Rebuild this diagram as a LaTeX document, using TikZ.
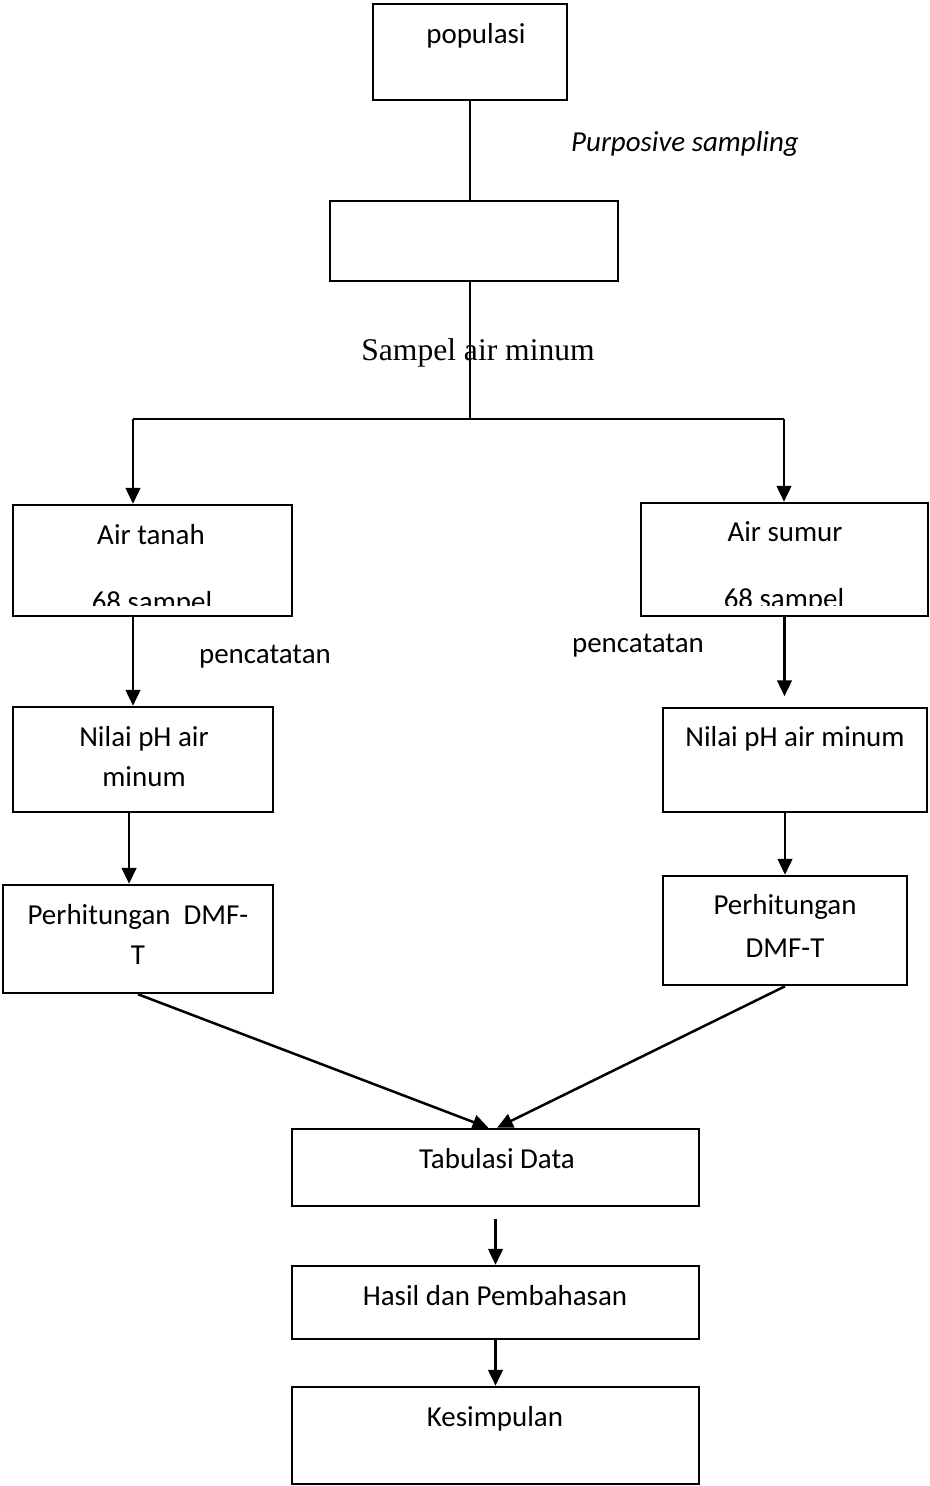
\documentclass[tikz,border=0pt]{standalone}
\usepackage{fontspec}
\setmainfont{Carlito}
\newfontfamily\timesfont{Liberation Serif}
\usetikzlibrary{arrows.meta,fit,positioning}

\begin{document}
\begin{tikzpicture}[x=0.38pt,y=-0.38pt,line width=0.95pt]
\tikzset{kotak/.style={draw,rectangle,inner sep=0pt},
  teks/.style={inner sep=0pt,anchor=base,align=center,font=\fontsize{11}{15.2}\selectfont},
  panah/.style={-{Triangle[length=6pt,width=5.5pt]}}}
\useasboundingbox (0,0) rectangle (929,1486);
\node[kotak,fit={(373,4) (567,100)}](pop){};
\node[teks](tpop) at (476,43){populasi};
\node[teks,font=\fontsize{11}{13}\selectfont\itshape](purp) at (685,151){Purposive sampling};
\node[kotak,fit={(330,201) (618,281)}](sampel){};
\node[teks,font=\timesfont\fontsize{12}{14}\selectfont](tsampel) at (478,360){Sampel air minum};
\draw (pop.south) -- (pop.south |- sampel.north);
\coordinate (cabang) at (470,419);
\coordinate (kiri) at (133,419);
\coordinate (kanan) at (784,419);
\draw (pop.south |- sampel.south) -- (cabang);
\draw (kiri) -- (kanan);
\node[kotak,fit={(13,505) (292,616)}](tanah){};
\node[teks](ttanah) at (151,544){Air tanah};
\begin{scope}
\clip (tanah.north west) rectangle (292,605);
\node[teks](ntanah) at (152,611){68 sampel};
\end{scope}
\node[kotak,fit={(641,503) (928,616)}](sumur){};
\node[teks](tsumur) at (785,541){Air sumur};
\begin{scope}
\clip (sumur.north west) rectangle (928,605);
\node[teks](nsumur) at (784,608){68 sampel};
\end{scope}
\draw[panah] (kiri) -- (kiri |- tanah.north);
\draw[panah] (kanan) -- (kanan |- sumur.north);
\node[kotak,fit={(13,707) (273,812)}](phkiri){};
\node[teks](tphkiri) at (144,786){Nilai pH air\\minum};
\node[kotak,fit={(663,708) (927,812)}](phkanan){};
\node[teks](tphkanan) at (795,746){Nilai pH air minum};
\node[teks](catkiri) at (265,663){pencatatan};
\node[teks](catkanan) at (638,652){pencatatan};
\draw[panah] (kiri |- tanah.south) -- (kiri |- phkiri.north);
\draw[panah,shorten >=4pt] (sumur.south) -- (sumur.south |- phkanan.north);
\node[kotak,fit={(3,885) (273,993)}](hitkiri){};
\node[teks](thitkiri) at (138,964){Perhitungan\ \ DMF-\\T};
\node[kotak,fit={(663,876) (907,985)}](hitkanan){};
\node[teks,font=\fontsize{11}{16.3}\selectfont](thitkanan) at (785,957){Perhitungan\\DMF-T};
\draw[panah] ([xshift=-5.3pt]phkiri.south) -- ([xshift=-5.3pt]phkiri.south |- hitkiri.north);
\draw[panah] (hitkanan.north |- phkanan.south) -- (hitkanan.north);
\node[kotak,fit={(292,1129) (699,1206)}](tab){};
\node[teks](ttab) at (497,1168){Tabulasi Data};
\draw[panah] (hitkiri.south) -- ([xshift=-2.7pt]tab.north);
\draw[panah] (hitkanan.south) -- ([xshift=0.6pt]tab.north);
\node[kotak,fit={(292,1266) (699,1339)}](hasil){};
\node[teks](thasil) at (495,1305){Hasil dan Pembahasan};
\draw[panah,shorten <=4.5pt] (tab.south) -- (tab.south |- hasil.north);
\node[kotak,fit={(292,1387) (699,1484)}](kes){};
\node[teks](tkes) at (495,1426){Kesimpulan};
\draw[panah] (hasil.south) -- (kes.north);
\end{tikzpicture}
\end{document}
